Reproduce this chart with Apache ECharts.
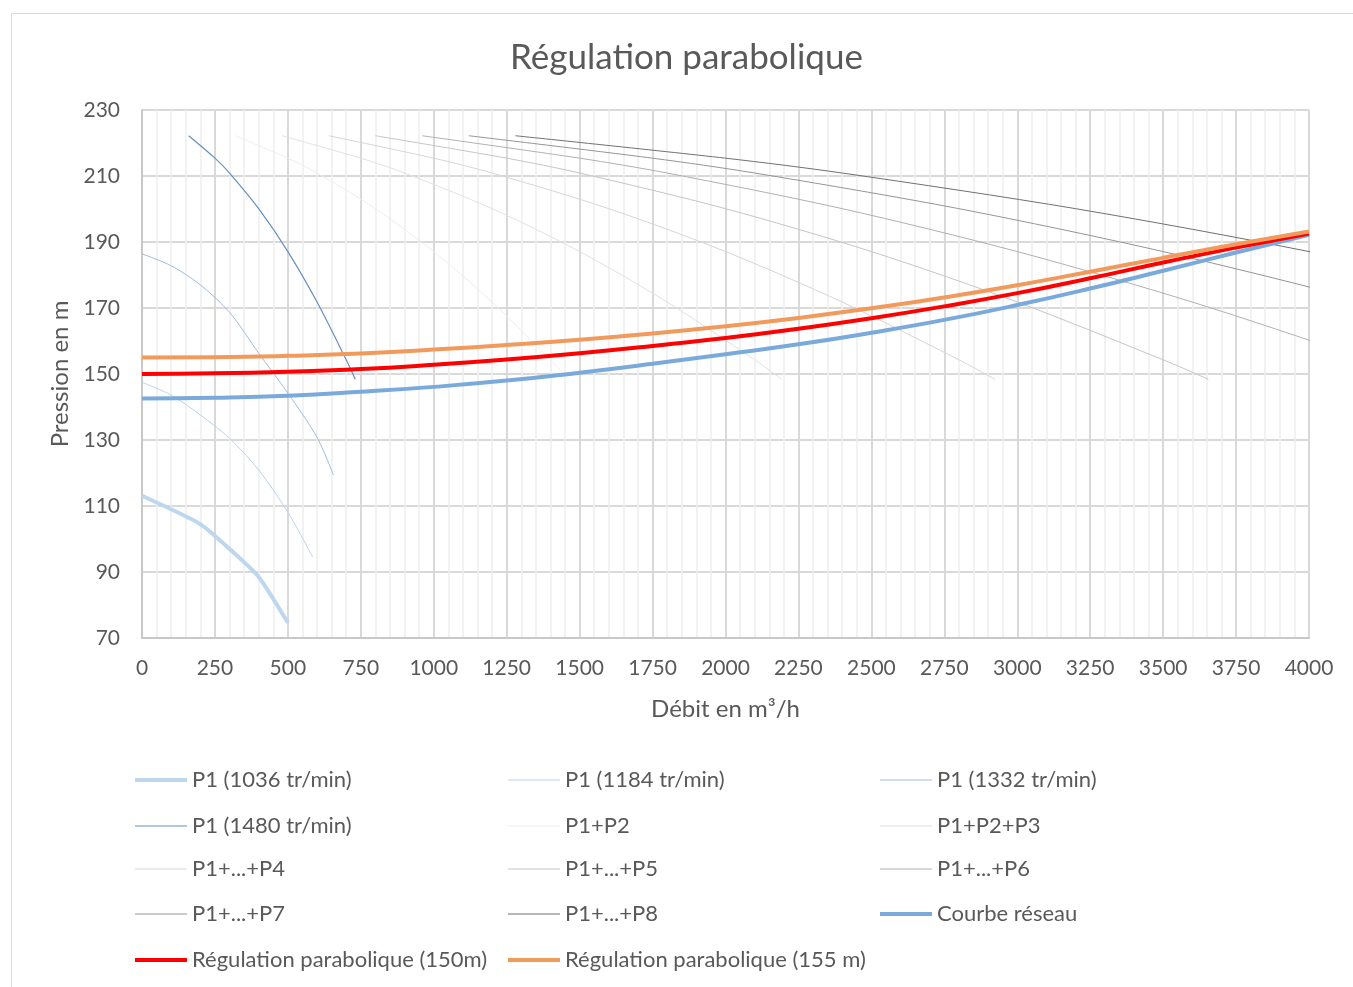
<!DOCTYPE html>
<html>
<head>
<meta charset="utf-8">
<script src="https://cdn.jsdelivr.net/npm/echarts@6/dist/echarts.min.js"></script>
<style>
    html, body { margin: 0; padding: 0; background: #fff; }
    #chart { width: 1353px; height: 987px; }
</style>
</head>
<body>
<div id="chart"></div>
<script>
    // débit (m3/h) pour les courbes réseau / régulation
    const flowNet = [0, 250, 500, 750, 1000, 1250, 1500, 1750, 2000, 2250, 2500, 2750, 3000, 3250, 3500, 3750, 4000];
    const courbeReseau = [142.6, 142.8, 143.4, 144.6, 146.1, 148.0, 150.4, 153.1, 156.0, 159.0, 162.5, 166.4, 170.9, 175.9, 181.3, 186.8, 192.2];
    const regul150 = [150.0, 150.2, 150.7, 151.5, 152.8, 154.4, 156.3, 158.5, 160.9, 163.7, 166.9, 170.5, 174.5, 179.0, 183.8, 188.3, 192.6];
    const regul155 = [155.0, 155.1, 155.5, 156.2, 157.4, 158.8, 160.4, 162.3, 164.5, 167.0, 169.9, 173.2, 176.9, 181.0, 185.2, 189.3, 193.2];

    // P1 à vitesse réduite
    const qP1low = [0, 100, 200, 300, 400, 500];
    const hP1_1036 = [113.1, 109.0, 104.5, 97.0, 88.5, 74.6];
    const qP1_1184 = [0, 100, 200, 300, 400, 500, 585];
    const hP1_1184 = [147.5, 143.6, 137.6, 130.5, 120.9, 108.1, 94.5];
    const qP1_1332 = [0, 100, 200, 300, 400, 500, 600, 656];
    const hP1_1332 = [186.4, 182.8, 177.0, 168.7, 156.3, 144.2, 130.8, 119.4];

    // pompes à 1480 tr/min (même hauteur, débit cumulé)
    const hPompe = [222.2, 215.4, 210.9, 200.1, 187.1, 171.8, 154.3, 148.4];
    const qP1 = [160, 250, 300, 400, 500, 600, 700, 731];
    const qP2 = [320, 500, 600, 800, 1000, 1200, 1400, 1462];
    const qP3 = [480, 750, 900, 1200, 1500, 1800, 2100, 2193];
    const qP4 = [640, 1000, 1200, 1600, 2000, 2400, 2800, 2924];
    const qP5 = [800, 1250, 1500, 2000, 2500, 3000, 3500, 3655];
    const qP6 = [960, 1500, 1800, 2400, 3000, 3600, 4200, 4386];
    const qP7 = [1120, 1750, 2100, 2800, 3500, 4200, 4900, 5117];
    const qP8 = [1280, 2000, 2400, 3200, 4000, 4800, 5600, 5848];

    const xTicks = [0, 4000, 250];
    const yTicks = [70, 230, 20];

    const FONT = 'Lato';
    const TXT = '#595959';

    function pairs(q, h) {
        return q.map((v, i) => [v, h[i]]);
    }
    function courbe(name, q, h, color, width, smooth) {
        return {
            name: name,
            type: 'line',
            data: pairs(q, h),
            symbol: 'none',
            showSymbol: false,
            smooth: smooth,
            lineStyle: { color: color, width: width },
            itemStyle: { color: color },
            z: width > 2 ? 5 : 3
        };
    }

    const series = [
        courbe('P1 (1036 tr/min)', qP1low, hP1_1036, '#bdd7ee', 4, 0.2),
        courbe('P1 (1184 tr/min)', qP1_1184, hP1_1184, '#bcd3ec', 1, 0.3),
        courbe('P1 (1332 tr/min)', qP1_1332, hP1_1332, '#9dbde0', 1, 0.3),
        courbe('P1 (1480 tr/min)', qP1, hPompe, '#6590be', 1.2, 0.3),
        courbe('P1+P2', qP2, hPompe, '#eeeeee', 1, 0.3),
        courbe('P1+P2+P3', qP3, hPompe, '#e2e2e2', 1, 0.3),
        courbe('P1+...+P4', qP4, hPompe, '#d6d6d6', 1, 0.3),
        courbe('P1+...+P5', qP5, hPompe, '#c6c6c6', 1, 0.3),
        courbe('P1+...+P6', qP6, hPompe, '#b0b0b0', 1, 0.3),
        courbe('P1+...+P7', qP7, hPompe, '#959595', 1, 0.3),
        courbe('P1+...+P8', qP8, hPompe, '#707070', 1, 0.3),
        courbe('Courbe réseau', flowNet, courbeReseau, '#7aaadc', 4, true),
        courbe('Régulation parabolique (150m)', flowNet, regul150, '#ff0000', 4, true),
        courbe('Régulation parabolique (155 m)', flowNet, regul155, '#f19a5c', 4, true)
    ];

    // légende : 3 colonnes, 5 lignes (ordre Excel)
    const legendCols = [135, 508, 880];
    const legendRows = [779, 825, 868, 913, 959];
    const legends = series.map((s, i) => ({
        data: [s.name],
        left: legendCols[i % 3],
        top: legendRows[Math.floor(i / 3)] - 10,
        padding: 0,
        icon: 'rect',
        itemWidth: 52,
        itemHeight: s.lineStyle.width > 2 ? 4 : 1,
        textStyle: { fontFamily: FONT, fontSize: 22, color: TXT }
    }));

    const chart = echarts.init(document.getElementById('chart'));

    const option = {
        backgroundColor: '#fff',
        animation: false,
        graphic: [{
            type: 'rect',
            left: 9, top: 11,
            shape: { width: 1400, height: 1000 },
            style: { fill: 'none', stroke: '#d9d9d9', lineWidth: 1 },
            z: -10
        }],
        title: {
            text: 'Régulation parabolique',
            left: 505,
            top: 35,
            textStyle: { fontFamily: FONT, fontSize: 35, fontWeight: 'normal', color: TXT }
        },
        grid: { left: 142, top: 110, right: 44, bottom: 349 },
        legend: legends,
        xAxis: {
            type: 'value',
            min: xTicks[0], max: xTicks[1], interval: xTicks[2],
            name: 'Débit en m³/h',
            nameLocation: 'middle',
            nameGap: 59,
            nameTextStyle: { fontFamily: FONT, fontSize: 24, color: TXT },
            axisLine: { show: true, lineStyle: { color: '#c8c8c8', width: 2 } },
            axisTick: { show: false },
            axisLabel: { fontFamily: FONT, fontSize: 21, color: TXT, margin: 20, formatter: v => String(v) },
            splitLine: { show: true, lineStyle: { color: '#d9d9d9', width: 2 } },
            minorTick: { show: false, splitNumber: 5 },
            minorSplitLine: { show: true, lineStyle: { color: '#eeeeee', width: 1.5 } }
        },
        yAxis: {
            type: 'value',
            min: yTicks[0], max: yTicks[1], interval: yTicks[2],
            name: 'Pression en m',
            nameLocation: 'middle',
            nameGap: 70,
            nameTextStyle: { fontFamily: FONT, fontSize: 24, color: TXT },
            axisLine: { show: true, lineStyle: { color: '#c8c8c8', width: 2 } },
            axisTick: { show: false },
            axisLabel: { fontFamily: FONT, fontSize: 21, color: TXT, margin: 22 },
            splitLine: { show: true, lineStyle: { color: '#d9d9d9', width: 2 } }
        },
        series: series
    };

    chart.setOption(option);
</script>
</body>
</html>
